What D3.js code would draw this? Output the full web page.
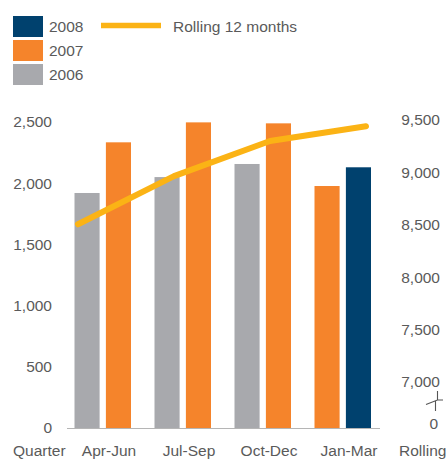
<!DOCTYPE html>
<html><head><meta charset="utf-8">
<script src="https://cdn.jsdelivr.net/npm/d3@7"></script>
<style>
body{margin:0;background:#fff;}
svg text{font-family:"Liberation Sans",Arial,Helvetica,sans-serif;font-size:15.5px;fill:#5a5a5a;}
</style></head>
<body><svg id="c" width="446" height="459"></svg>
<script>
const quarters = ["Apr-Jun","Jul-Sep","Oct-Dec","Jan-Mar"];
const prevYear = ["2006","2006","2006","2007"];
const prevValues = [1920, 2050, 2157, 1977];
const currYear = ["2007","2007","2007","2008"];
const currValues = [2334, 2497, 2489, 2130];
const rolling = [8505, 8965, 9300, 9440];
const leftTicks = [0, 500, 1000, 1500, 2000, 2500];
const rightTicks = [7000, 7500, 8000, 8500, 9000, 9500];
const legendYears = ["2008","2007","2006"];
const lineLabel = "Rolling 12 months";

const colors = {"2006":"#a8a9ad","2007":"#f5842b","2008":"#00416e"};
const lineColor = "#fbb315";

const svg = d3.select("#c");
const x = d3.scaleBand().domain(quarters).range([67, 387]);
const x1 = d3.scaleBand().domain(["prev","curr"]).range([7.5, 64]).paddingInner(0.2);
const yL = d3.scaleLinear().domain([0, 2500]).range([428, 122]);
const yR = d3.scaleLinear().domain([7000, 9500]).range([382, 120]);
const xLine = d3.scalePoint().domain(quarters).range([78, 366]);

// bars
const g = svg.append("g");
quarters.forEach((q, i) => {
  [["prev", prevYear[i], prevValues[i]], ["curr", currYear[i], currValues[i]]].forEach(([k, yr, v]) => {
    g.append("rect")
      .attr("x", x(q) + x1(k))
      .attr("width", x1.bandwidth())
      .attr("y", yL(v))
      .attr("height", yL(0) - yL(v))
      .attr("fill", colors[yr]);
  });
});

// baseline
svg.append("line").attr("x1", 67).attr("x2", 380)
  .attr("y1", yL(0) + 0.5).attr("y2", yL(0) + 0.5)
  .attr("stroke", "#b5b5b5").attr("stroke-width", 1.2);

// left axis
const la = svg.append("g").attr("transform", "translate(52,0)")
  .call(d3.axisLeft(yL).tickValues(leftTicks).tickSize(0).tickPadding(0).tickFormat(d3.format(",")));
la.select(".domain").remove();
la.selectAll("text").attr("fill", "#5a5a5a");

// right axis
const ra = svg.append("g").attr("transform", "translate(440,0)")
  .call(d3.axisLeft(yR).tickValues(rightTicks).tickSize(0).tickPadding(0).tickFormat(d3.format(",")));
ra.select(".domain").remove();
ra.selectAll("text").attr("fill", "#5a5a5a");
svg.append("text").attr("x", 438).attr("y", yL(0) - 4).attr("dy", "0.32em")
  .attr("text-anchor", "end").text("0");

// axis break symbol
svg.append("path")
  .attr("d", "M437.5,391 V400 M426,404.5 L437.5,400 L443,400 M435.5,401 V411")
  .attr("fill", "none").attr("stroke", "#555").attr("stroke-width", 1.1);

// line
svg.append("path")
  .datum(rolling)
  .attr("d", d3.line().x((d, i) => xLine(quarters[i])).y(d => yR(d)))
  .attr("fill", "none").attr("stroke", lineColor).attr("stroke-width", 6)
  .attr("stroke-linecap", "round").attr("stroke-linejoin", "round");

// x labels
const xa = svg.append("g").attr("transform", "translate(2," + 456 + ")");
quarters.forEach(q => {
  xa.append("text").attr("x", x(q) + x.bandwidth() / 2).attr("text-anchor", "middle").text(q);
});
svg.append("text").attr("x", 13).attr("y", 456).text("Quarter");
svg.append("text").attr("x", 399).attr("y", 456).text("Rolling");

// legend
const lg = svg.append("g");
legendYears.forEach((yr, i) => {
  lg.append("rect").attr("x", 13).attr("y", 16 + i * 24).attr("width", 30).attr("height", 21).attr("fill", colors[yr]);
  lg.append("text").attr("x", 49).attr("y", 26.5 + i * 24).attr("dy", "0.35em").text(yr);
});
lg.append("line").attr("x1", 101).attr("x2", 161).attr("y1", 25.5).attr("y2", 25.5)
  .attr("stroke", lineColor).attr("stroke-width", 5.5);
lg.append("text").attr("x", 173).attr("y", 26.5).attr("dy", "0.35em").text(lineLabel);
</script></body></html>
